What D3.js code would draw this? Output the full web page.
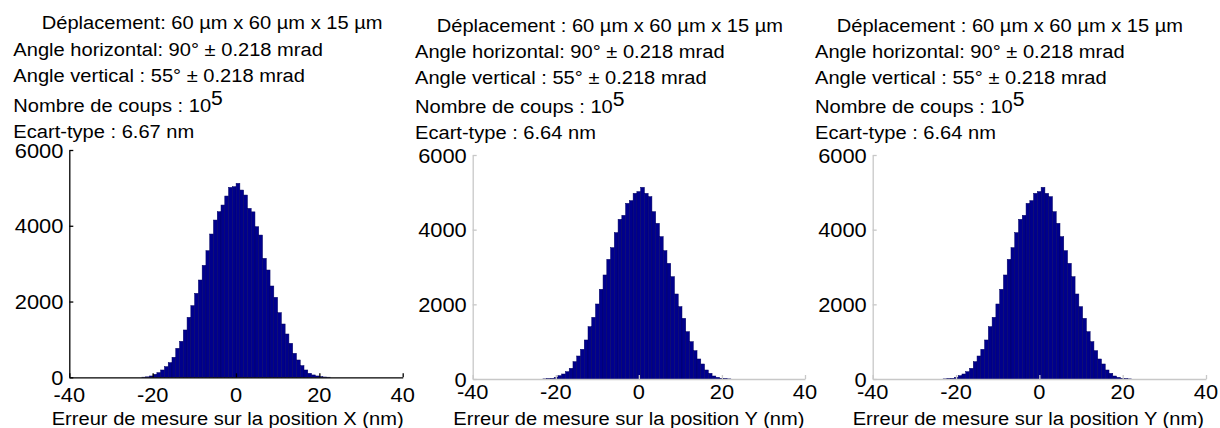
<!DOCTYPE html>
<html>
<head>
<meta charset="utf-8">
<script src="https://cdn.jsdelivr.net/npm/d3@7/dist/d3.min.js"></script>
<style>
  html, body { margin: 0; padding: 0; background: #fff; }
  svg { display: block; }
  text { font-family: "Liberation Sans", Arial, sans-serif; fill: #000; }
</style>
</head>
<body>
<svg id="chart" width="1220" height="428"></svg>
<script>
// ---------------- data ----------------
const binWidth = 0.905;           // nm, histogram bin width
const xTicks = [-40, -20, 0, 20, 40];
const yTicks = [0, 2000, 4000, 6000];

// Panel 1 : position X
const startX = -22.6;
const countsX = [4, 12, 35, 79, 123, 193, 281, 387, 528, 765, 950, 1249, 1583, 1891, 2216, 2568, 2955, 3342, 3782, 4151, 4371, 4547, 4785, 5013, 5031, 5119, 4943, 4811, 4459, 4367, 3975, 3755, 3140, 2832, 2410, 2111, 1706, 1407, 1143, 897, 633, 457, 308, 193, 105, 62, 35, 18, 8, 3];

// Panels 2 and 3 : position Y
const startY = -23.1;
const countsY = [3, 8, 18, 45, 89, 134, 196, 286, 464, 616, 795, 1045, 1402, 1652, 2009, 2402, 2786, 3205, 3518, 3920, 4277, 4384, 4705, 4777, 4973, 5020, 5134, 4973, 4884, 4482, 4170, 3813, 3438, 3098, 2741, 2277, 1938, 1625, 1268, 1000, 759, 536, 402, 241, 152, 80, 45, 18, 9, 3];

const headerX = ["Déplacement: 60 µm x 60 µm x 15 µm", "Angle horizontal: 90° ± 0.218 mrad", "Angle vertical : 55° ± 0.218 mrad", "Nombre de coups : 10", "Ecart-type : 6.67 nm"];
const headerY = ["Déplacement : 60 µm x 60 µm x 15 µm", "Angle horizontal: 90° ± 0.218 mrad", "Angle vertical : 55° ± 0.218 mrad", "Nombre de coups : 10", "Ecart-type : 6.64 nm"];
const xLabelX = "Erreur de mesure sur la position X (nm)";
const xLabelY = "Erreur de mesure sur la position Y (nm)";

// ---------------- layout ----------------
const panels = [
  { counts: countsX, start: startX, header: headerX, xlabel: xLabelX,
    x0: 69.3, x1: 402.7, yb: 377.3, yt: 150, axisColor: "#000",
    hx1: 41.7, hx: 13.3, hy: [29, 55.5, 81.5, 111.5, 137.5],
    tickLabelY: 401.5, labelX: 51.7 },
  { counts: countsY, start: startY, header: headerY, xlabel: xLabelY,
    x0: 472.7, x1: 805, yb: 379, yt: 155, axisColor: "#c8c8c8",
    hx1: 436.7, hx: 415, hy: [31.5, 57.5, 83.5, 113, 139],
    tickLabelY: 399, labelX: 453.3 },
  { counts: countsY, start: startY, header: headerY, xlabel: xLabelY,
    x0: 872.7, x1: 1206, yb: 379, yt: 155, axisColor: "#c8c8c8",
    hx1: 836.7, hx: 815, hy: [31.5, 57.5, 83.5, 113, 139],
    tickLabelY: 399, labelX: 852.7 }
];

const fsText = 18.8, sxText = 1.07;
const fsTick = 21, sxTick = 1.04;

const svg = d3.select("#chart");

function stext(g, x, y, str, size, sx, anchor) {
  return g.append("text")
    .attr("transform", `translate(${x},${y}) scale(${sx},1)`)
    .attr("text-anchor", anchor || "start")
    .style("font-size", size + "px")
    .text(str);
}

panels.forEach(p => {
  const g = svg.append("g");
  const xs = d3.scaleLinear().domain([-40, 40]).range([p.x0, p.x1]);
  const ys = d3.scaleLinear().domain([0, 6000]).range([p.yb, p.yt]);

  // bars
  g.append("g").selectAll("rect").data(p.counts).join("rect")
    .attr("x", (d, i) => xs(p.start + i * binWidth))
    .attr("width", (d, i) => xs(p.start + (i + 1) * binWidth) - xs(p.start + i * binWidth))
    .attr("y", d => ys(d))
    .attr("height", d => ys(0) - ys(d))
    .attr("fill", "#00008c")
    .attr("stroke", "#000060")
    .attr("stroke-width", 0.5);

  // axes (inward ticks, no box)
  const ax = g.append("g").attr("transform", `translate(0,${p.yb})`)
    .call(d3.axisBottom(xs).tickValues(xTicks).tickSizeInner(-4).tickSizeOuter(0).tickFormat(""));
  const ay = g.append("g").attr("transform", `translate(${p.x0},0)`)
    .call(d3.axisLeft(ys).tickValues(yTicks).tickSizeInner(-4).tickSizeOuter(0).tickFormat(""));
  [ax, ay].forEach(a => {
    a.selectAll("path, line").attr("stroke", p.axisColor).attr("stroke-width", 1.3);
  });

  // tick labels
  xTicks.forEach(t => stext(g, xs(t), p.tickLabelY, String(t), fsTick, sxTick, "middle"));
  yTicks.forEach(t => stext(g, p.x0 - 6, ys(t) + 7.5, String(t), fsTick, sxTick, "end"));

  // x label
  stext(g, p.labelX, 425, p.xlabel, fsText, sxText, "start");

  // header lines
  p.header.forEach((h, i) => {
    const x = i === 0 ? p.hx1 : p.hx;
    const t = stext(g, x, p.hy[i], h, fsText, sxText, "start");
    if (i === 3) {
      t.append("tspan").attr("dy", -7).style("font-size", (fsText * 1.05) + "px").text("5");
    }
  });
});
</script>
</body>
</html>
